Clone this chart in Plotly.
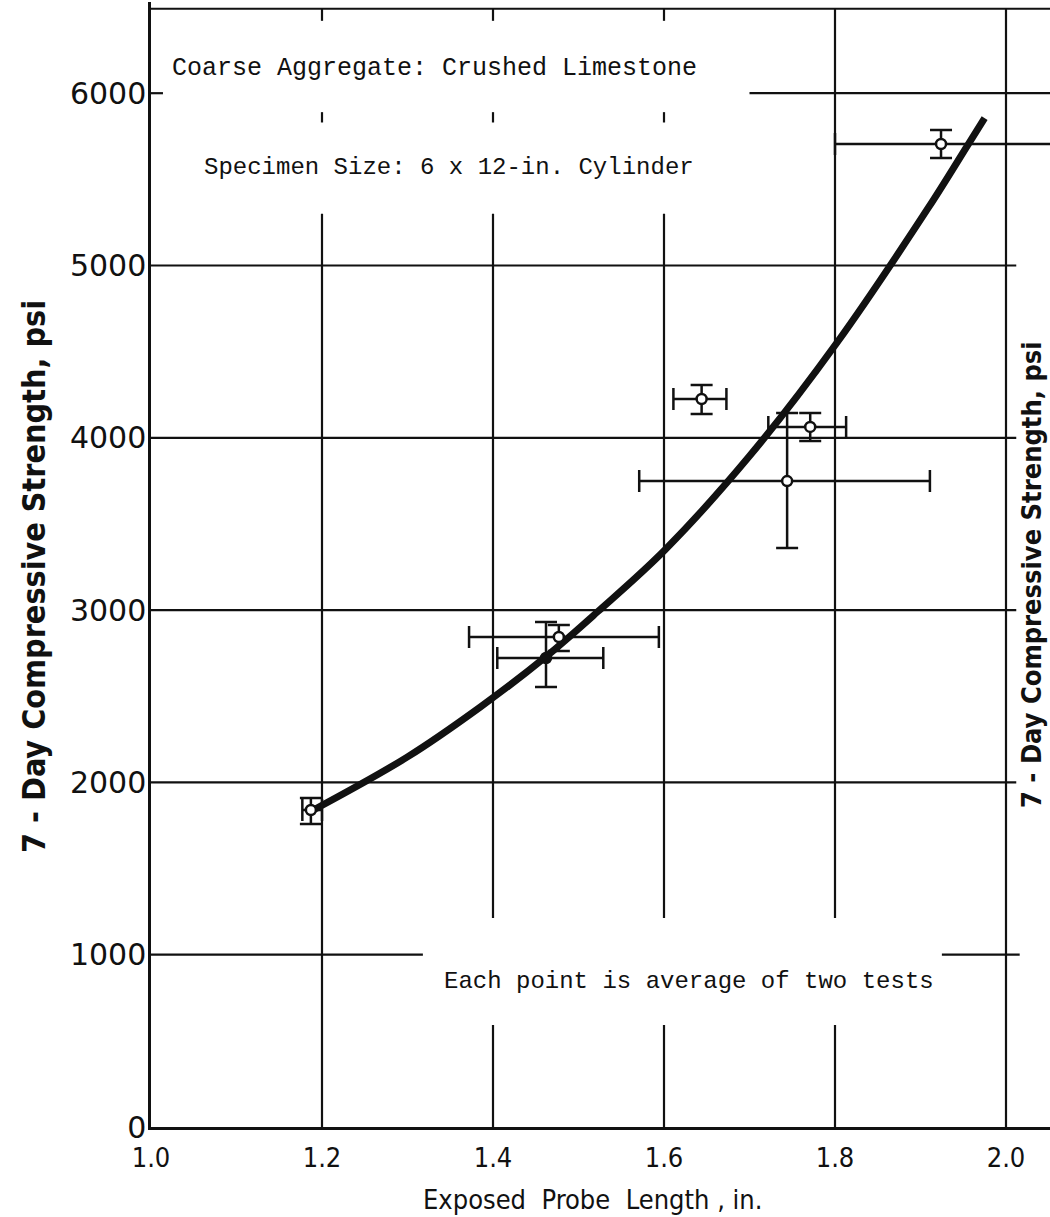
import plotly.graph_objects as go

# Each point is the average of two tests: exposed probe length (in.) vs 7-day strength (psi)
probe_length = [1.187, 1.462, 1.477, 1.644, 1.744, 1.771, 1.924]
strength_psi = [1840, 2722, 2844, 4225, 3749, 4063, 5705]
length_low = [1.177, 1.405, 1.372, 1.611, 1.571, 1.722, 1.800]
length_high = [1.200, 1.529, 1.594, 1.673, 1.911, 1.813, 2.100]
strength_low = [1758, 2554, 2763, 4138, 3360, 3981, 5624]
strength_high = [1909, 2931, 2913, 4306, 4144, 4144, 5786]

# Fitted strength curve
fit_length = [1.19, 1.30, 1.385, 1.46, 1.522, 1.601, 1.70, 1.802, 1.909, 1.956, 1.975]
fit_strength = [1840, 2148, 2437, 2722, 2989, 3349, 3894, 4550, 5334, 5705, 5855]

x_ticks = [1.0, 1.2, 1.4, 1.6, 1.8, 2.0]
x_tick_text = ["1.0", "1.2", "1.4", "1.6", "1.8", "2.0"]
y_ticks = [0, 1000, 2000, 3000, 4000, 5000, 6000]
y_tick_text = ["0", "1000", "2000", "3000", "4000", "5000", "6000"]

# ---- page geometry -------------------------------------------------------
W, H = 1050, 1217
ML, MR, MT, MB = 151, 0, 2, 90
PX_PER_IN = 855.0      # horizontal scale, px per inch of probe length
PX_PER_PSI = 0.1723    # vertical scale, px per psi
X0 = 1.0
X1 = X0 + (W - ML - MR) / PX_PER_IN
Y1 = (H - MT - MB) / PX_PER_PSI


def paper_x(px):
    return (px - ML) / (W - ML - MR)


def paper_y(py):
    return (H - MB - py) / (H - MT - MB)


INK = "#111111"
SERIF = "Liberation Mono, DejaVu Sans Mono, monospace"
NARROW = "DejaVu Sans Condensed, Liberation Sans Narrow, Roboto, sans-serif"
ROUND = "DejaVu Sans, Lato, sans-serif"

fig = go.Figure()

# ---- graph-paper rules (broken around the notes) ------------------------
TOP = 6490
RIGHT = X1 + 0.02
v_rules = [
    (1.2, 6420, TOP), (1.2, 5830, 5890), (1.2, 0, 5300),
    (1.4, 6420, TOP), (1.4, 5830, 5890), (1.4, 1213, 5300), (1.4, 0, 592),
    (1.6, 6420, TOP), (1.6, 5830, 5890), (1.6, 1213, 5300), (1.6, 0, 592),
    (1.8, 1213, TOP), (1.8, 0, 592),
    (2.0, 0, TOP),
]
h_rules = [
    (TOP, X0, RIGHT),
    (6000, X0, 1.014), (6000, 1.70, RIGHT),
    (5000, X0, 2.012), (4000, X0, 2.012), (3000, X0, 2.012), (2000, X0, 2.012),
    (1000, X0, 1.318), (1000, 1.925, 2.016),
]
shapes = []
for xv, ya, yb in v_rules:
    shapes.append(dict(type="line", xref="x", yref="y", x0=xv, x1=xv, y0=ya, y1=yb,
                       line=dict(color=INK, width=2.2), layer="below"))
for yv, xa, xb in h_rules:
    shapes.append(dict(type="line", xref="x", yref="y", x0=xa, x1=xb, y0=yv, y1=yv,
                       line=dict(color=INK, width=2.2), layer="below"))

# ---- fitted curve --------------------------------------------------------
fig.add_trace(go.Scatter(
    x=fit_length, y=fit_strength, mode="lines",
    line=dict(color=INK, width=7, shape="spline", smoothing=1.0),
    hoverinfo="skip", showlegend=False,
))

# ---- test points with scatter bars ---------------------------------------
err_x_plus = [h - v for h, v in zip(length_high, probe_length)]
err_x_minus = [v - l for l, v in zip(length_low, probe_length)]
err_y_plus = [h - v for h, v in zip(strength_high, strength_psi)]
err_y_minus = [v - l for l, v in zip(strength_low, strength_psi)]
fill = ["white"] * len(probe_length)
fill[1] = INK  # this point sits on the curve

fig.add_trace(go.Scatter(
    x=probe_length, y=strength_psi, mode="markers",
    marker=dict(symbol="circle", size=10, color=fill, line=dict(color=INK, width=2.5)),
    error_x=dict(type="data", symmetric=False, array=err_x_plus, arrayminus=err_x_minus,
                 color=INK, thickness=2.5, width=11),
    error_y=dict(type="data", symmetric=False, array=err_y_plus, arrayminus=err_y_minus,
                 color=INK, thickness=2.5, width=11),
    showlegend=False,
))

annotations = [
    dict(text="Coarse Aggregate: Crushed Limestone", xref="x", yref="y",
         x=1.0222, y=6146, xanchor="left", yanchor="middle", showarrow=False,
         font=dict(family=SERIF, size=25, color=INK)),
    dict(text="Specimen Size: 6 x 12-in. Cylinder", xref="x", yref="y",
         x=1.0596, y=5566, xanchor="left", yanchor="middle", showarrow=False,
         font=dict(family=SERIF, size=24, color=INK)),
    dict(text="Each point is average of two tests", xref="x", yref="y",
         x=1.3404, y=847, xanchor="left", yanchor="middle", showarrow=False,
         font=dict(family=SERIF, size=24, color=INK)),
    # axis titles
    dict(text="<b>7 - Day Compressive Strength, psi</b>", xref="paper", yref="paper",
         x=paper_x(34), y=paper_y(577), xanchor="center", yanchor="middle",
         textangle=-90, showarrow=False, font=dict(family=NARROW, size=32, color=INK)),
    dict(text="Exposed  Probe  Length , in.", xref="paper", yref="paper",
         x=paper_x(592), y=paper_y(1199), xanchor="center", yanchor="middle",
         showarrow=False, font=dict(family=NARROW, size=27, color=INK)),
    # neighbouring figure's axis title along the page edge
    dict(text="<b>7 - Day Compressive Strength, psi</b>", xref="paper", yref="paper",
         x=paper_x(1031), y=paper_y(575), xanchor="center", yanchor="middle",
         textangle=-90, showarrow=False, font=dict(family=NARROW, size=27, color=INK)),
]

fig.update_layout(
    width=W, height=H,
    margin=dict(l=ML, r=MR, t=MT, b=MB, pad=0),
    paper_bgcolor="white", plot_bgcolor="white",
    shapes=shapes, annotations=annotations,
    xaxis=dict(range=[X0, X1], tickvals=x_ticks, ticktext=x_tick_text,
               showgrid=False, zeroline=False, showline=True, linecolor=INK, linewidth=2.5,
               ticks="", ticklabelstandoff=5,
               tickfont=dict(family=NARROW, size=27, color=INK)),
    yaxis=dict(range=[0, Y1], tickvals=y_ticks, ticktext=y_tick_text,
               showgrid=False, zeroline=False, showline=True, linecolor=INK, linewidth=2.5,
               ticks="", ticklabelstandoff=-4,
               tickfont=dict(family=ROUND, size=30, color=INK)),
)

fig.write_html("out.html")
